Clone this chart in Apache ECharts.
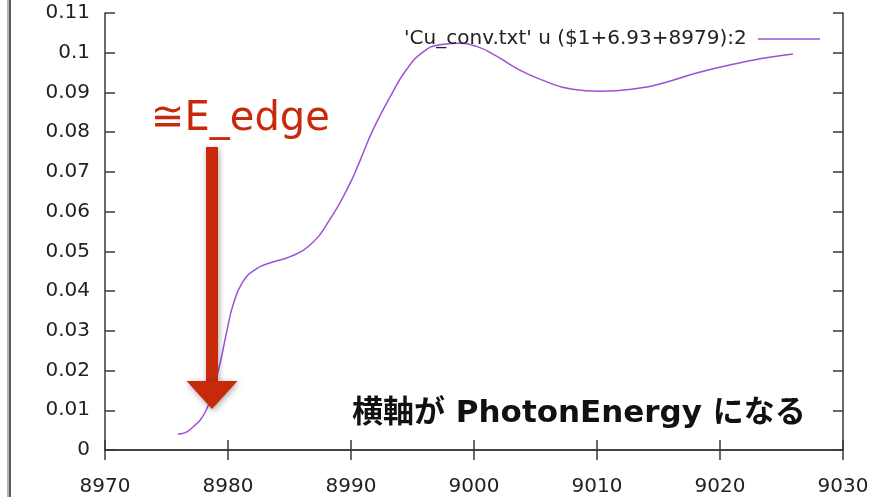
<!DOCTYPE html>
<html>
<head>
<meta charset="utf-8">
<script src="https://cdn.jsdelivr.net/npm/echarts@6/dist/echarts.min.js"></script>
<style>
  html, body { margin: 0; padding: 0; background: #fff; }
  #chart { width: 872px; height: 497px; }
</style>
</head>
<body>
<div id="chart"></div>
<script>
// Photon energy (eV) and absorption of the Cu K-edge spectrum
const energy = [8975.93, 8976.9, 8978.3, 8979.2, 8979.9, 8980.4, 8981.2, 8982.3, 8983.7, 8985.0,
                8986.6, 8988.3, 8989.9, 8990.7, 8991.8, 8993.2, 8994.5, 8995.9, 8997.2,
                8998.6, 9000.2, 9001.8, 9003.5, 9005.4, 9008.0, 9010.2, 9013.5, 9015.4, 9018.1,
                9020.8, 9023.5, 9025.93];
const mu = [0.0040, 0.0051, 0.0105, 0.0198, 0.0298, 0.0364, 0.0423, 0.0456, 0.0474, 0.0486,
            0.0514, 0.0581, 0.0670, 0.0726, 0.0807, 0.0890, 0.0957, 0.1003, 0.1020,
            0.1024, 0.1016, 0.0992, 0.0960, 0.0933, 0.0908, 0.0903, 0.0911, 0.0924, 0.0949,
            0.0969, 0.0986, 0.0997];

const seriesName = "'Cu_conv.txt' u ($1+6.93+8979):2";
const xRange = { min: 8970, max: 9030, step: 10 };
const yRange = { min: 0, max: 0.11, step: 0.01 };
const edgeEnergy = 8978.7;
const edgeLabel = '≅E_edge';
const noteLabel = '横軸が PhotonEnergy になる';

const axisColor = '#3a3a3a';
const labelFont = "'DejaVu Sans', Verdana, sans-serif";
const red = '#c8290b';
const lineColor = '#9d4fd8';

function frameAxis(extra) {
  return Object.assign({
    type: 'value',
    axisLine: { show: true, lineStyle: { color: axisColor, width: 1.5 } },
    axisTick: { show: true, inside: true, length: 10, lineStyle: { color: axisColor, width: 1.5 } },
    splitLine: { show: false }
  }, extra);
}

const chart = echarts.init(document.getElementById('chart'), null, { renderer: 'canvas' });

chart.setOption({
  animation: false,
  backgroundColor: '#ffffff',
  grid: { left: 105, right: 29, top: 13, bottom: 45 },
  legend: {
    data: [seriesName],
    align: 'right',
    icon: 'rect',
    right: 47,
    top: 24,
    itemWidth: 62,
    itemHeight: 1.5,
    itemStyle: { color: lineColor },
    formatter: name => name + ' ',
    textStyle: { fontFamily: labelFont, fontSize: 20, color: '#222' }
  },
  xAxis: [
    frameAxis({
      position: 'bottom', min: xRange.min, max: xRange.max, interval: xRange.step,
      axisLabel: { show: true, margin: 27, fontFamily: labelFont, fontSize: 20, color: '#222',
                   formatter: v => String(v) }
    }),
    frameAxis({
      position: 'top', min: xRange.min, max: xRange.max, interval: xRange.step,
      axisLabel: { show: false }
    })
  ],
  yAxis: [
    frameAxis({
      position: 'left', min: yRange.min, max: yRange.max, interval: yRange.step,
      axisLabel: { show: true, margin: 15, fontFamily: labelFont, fontSize: 20, color: '#222' }
    }),
    frameAxis({
      position: 'right', min: yRange.min, max: yRange.max, interval: yRange.step,
      axisLabel: { show: false }
    })
  ],
  series: [{
    name: seriesName,
    type: 'line',
    xAxisIndex: 0,
    yAxisIndex: 0,
    smooth: 0.5,
    symbol: 'none',
    lineStyle: { color: lineColor, width: 1.5 },
    itemStyle: { color: lineColor },
    data: energy.map((e, i) => [e, mu[i]])
  }]
});

// Annotation: arrow pointing at the absorption edge, plus captions
const tip = chart.convertToPixel({ xAxisIndex: 0, yAxisIndex: 0 }, [edgeEnergy, 0]);
const tipX = tip[0];
const shadow = { shadowBlur: 6, shadowColor: 'rgba(0,0,0,0.35)', shadowOffsetX: 1, shadowOffsetY: 2 };

chart.setOption({
  graphic: [
    // window frame strip on the far left
    { type: 'rect', shape: { x: 7, y: 0, width: 2, height: 497 }, style: { fill: '#b4b4b4' }, silent: true },
    { type: 'rect', shape: { x: 9, y: 0, width: 2, height: 497 }, style: { fill: '#5e5e5e' }, silent: true },
    {
      type: 'rect',
      shape: { x: tipX - 6, y: 147, width: 12, height: 236 },
      style: Object.assign({ fill: red }, shadow),
      z: 100
    },
    {
      type: 'polygon',
      shape: { points: [[tipX - 25.5, 381], [tipX + 25.5, 381], [tipX, 409]] },
      style: Object.assign({ fill: red }, shadow),
      z: 100
    },
    {
      type: 'text',
      left: 151, top: 100,
      style: { text: edgeLabel, fill: red, fontFamily: labelFont, fontSize: 40, fontWeight: 'normal' },
      z: 100
    },
    {
      type: 'text',
      left: 352, top: 398,
      style: { text: noteLabel, fill: '#111', fontFamily: "'DejaVu Sans', 'Noto Sans CJK JP', sans-serif", fontSize: 31, fontWeight: 'bold' },
      z: 100
    }
  ]
});
</script>
</body>
</html>
